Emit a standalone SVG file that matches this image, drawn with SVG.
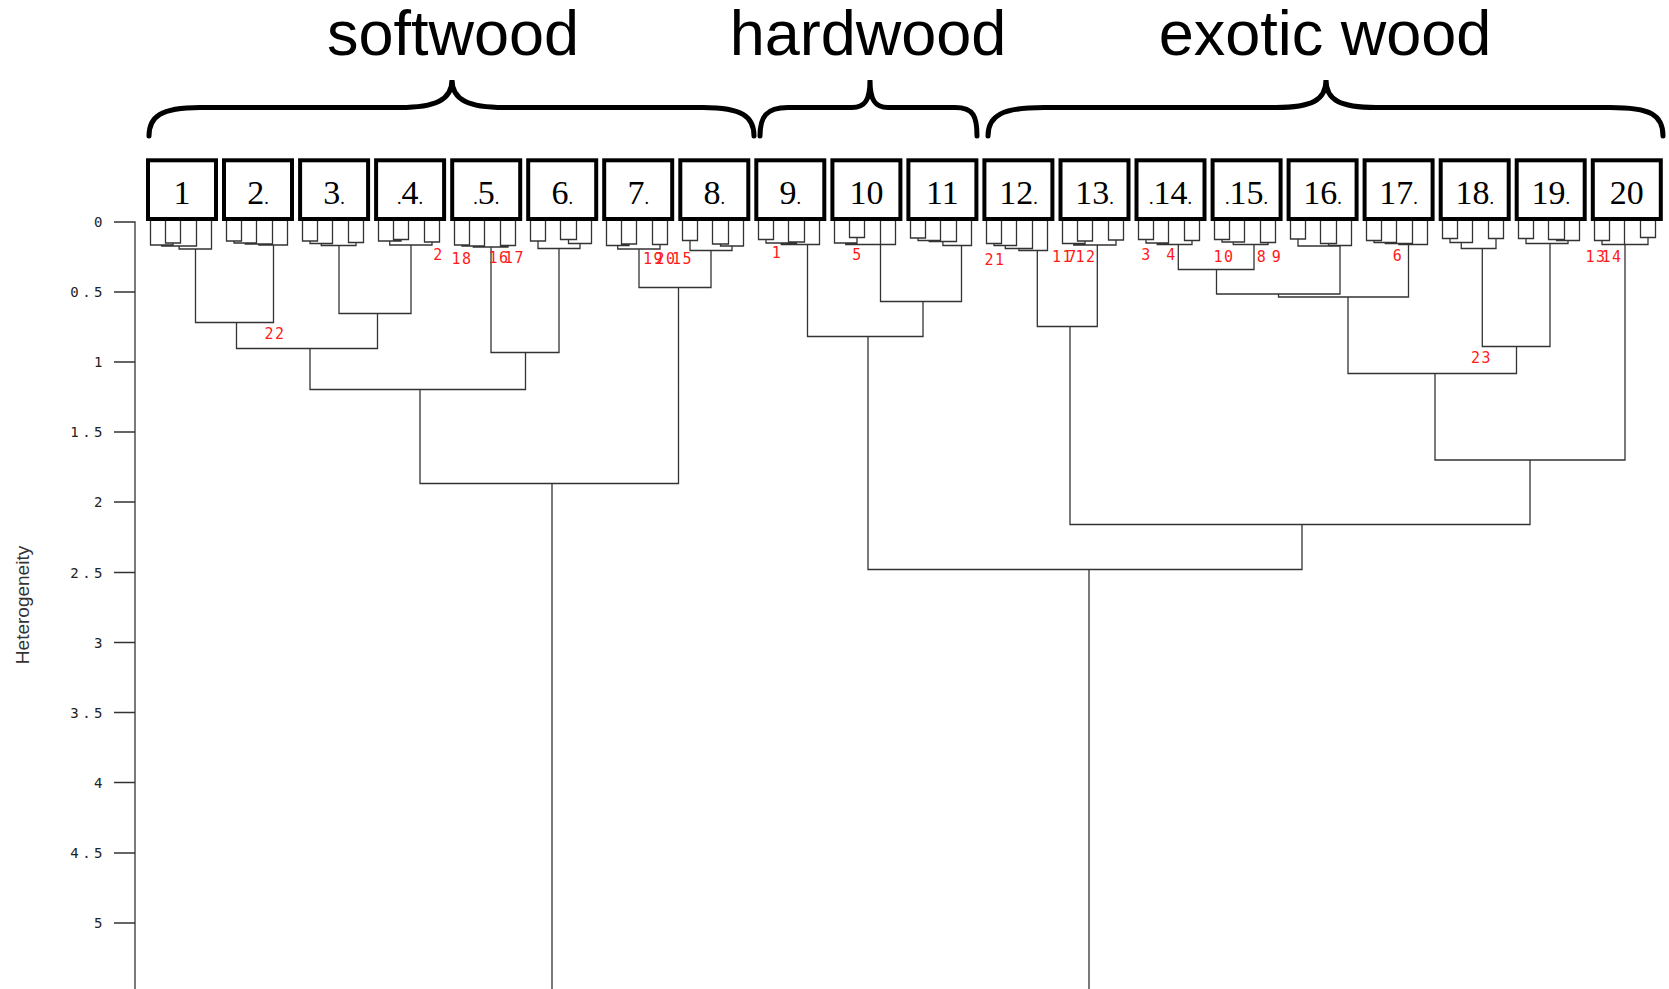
<svg xmlns="http://www.w3.org/2000/svg" width="1669" height="989" viewBox="0 0 1669 989">
<style>
  .hd{font-family:"Liberation Sans",Arial,sans-serif;font-size:63px;fill:#000;text-anchor:middle}
  .br{fill:none;stroke:#000;stroke-width:5;stroke-linecap:round}
  .bx{fill:#fff;stroke:#000;stroke-width:4}
  .num{font-family:"Liberation Serif","Times New Roman",serif;font-size:34px;fill:#000;text-anchor:middle}
  .dot{font-size:18px}
  .ln{fill:none;stroke:#333;stroke-width:1.3}
  .red{font-family:"DejaVu Sans Mono",monospace;font-size:15px;fill:#ff1a1a;letter-spacing:1.5px;text-anchor:middle}
  .tick{font-family:"DejaVu Sans Mono",monospace;font-size:14px;fill:#222;letter-spacing:3.5px;text-anchor:end}
  .ylab{font-family:"Liberation Sans",Arial,sans-serif;font-size:19px;fill:#333;text-anchor:middle}
</style>

<!-- group headings with braces -->
<g id="softwood">
  <text class="hd" x="453" y="55">softwood</text>
  <path class="br" d="M149,136 C149,117 160,107.5 200,107.5 L400,107.5 C435,107.5 452,100 452,80 C452,100 469,107.5 504,107.5 L703,107.5 C743,107.5 754,117 754,136"/>
</g>
<g id="hardwood">
  <text class="hd" x="868" y="55">hardwood</text>
  <path class="br" d="M760,136 C760,117 766,107.5 788,107.5 L852,107.5 C865,107.5 870,100 870,80 C870,100 875,107.5 888,107.5 L955,107.5 C974,107.5 977,117 977,136"/>
</g>
<g id="exotic">
  <text class="hd" x="1325" y="55">exotic wood</text>
  <path class="br" d="M988,136 C988,115 1003,107.5 1044,107.5 L1276,107.5 C1312,107.5 1326,100 1326,80 C1326,100 1340,107.5 1376,107.5 L1610,107.5 C1651,107.5 1663,115 1663,136"/>
</g>

<!-- axis -->
<g id="axis">
  <path class="ln" d="M114,222H135V989M114,292H135M114,362H135M114,432H135M114,502H135M114,572.5H135M114,642.5H135M114,712.5H135M114,782.5H135M114,853H135M114,923H135"/>
  <text class="tick" x="106" y="227">0</text>
  <text class="tick" x="106" y="297">0.5</text>
  <text class="tick" x="106" y="367">1</text>
  <text class="tick" x="106" y="437">1.5</text>
  <text class="tick" x="106" y="507">2</text>
  <text class="tick" x="106" y="577.5">2.5</text>
  <text class="tick" x="106" y="647.5">3</text>
  <text class="tick" x="106" y="717.5">3.5</text>
  <text class="tick" x="106" y="787.5">4</text>
  <text class="tick" x="106" y="858">4.5</text>
  <text class="tick" x="106" y="928">5</text>
  <text class="ylab" transform="translate(29,605) rotate(-90)">Heterogeneity</text>
</g>

<!-- sample boxes, each with its small sub-tree -->
<g id="box1"><rect class="bx" x="148" y="160.3" width="68" height="58.7"/><text class="num" x="182" y="204">1</text>
  <path class="ln" transform="translate(150.5,221)" d="M15,0V22H30V0M0,0V24H22.5V22M11.25,24V25H46V0M28.6,25V28H61V0"/></g>
<g id="box2"><rect class="bx" x="224" y="160.3" width="68" height="58.7"/><text class="num" x="258" y="204">2<tspan class="dot">.</tspan></text>
  <path class="ln" transform="translate(226.5,221)" d="M0,0V20H15V0M7.5,20V22H30V0M18.75,22V23H46V0M32.4,23V24H61V0"/></g>
<g id="box3"><rect class="bx" x="300.1" y="160.3" width="68" height="58.7"/><text class="num" x="334.1" y="204">3<tspan class="dot">.</tspan></text>
  <path class="ln" transform="translate(302.5,221)" d="M0,0V20H15V0M7.5,20V22.5H30V0M46,0V21.5H61V0M18.75,22.5V24.5H53.5V21.5"/></g>
<g id="box4"><rect class="bx" x="376.1" y="160.3" width="68" height="58.7"/><text class="num" x="410.1" y="204"><tspan class="dot">.</tspan>4<tspan class="dot">.</tspan></text>
  <path class="ln" transform="translate(378.5,221)" d="M15,0V18.5H30V0M0,0V20H22.5V18.5M46,0V21H61V0M11.25,20V24H53.5V21"/></g>
<g id="box5"><rect class="bx" x="452.2" y="160.3" width="68" height="58.7"/><text class="num" x="486.2" y="204"><tspan class="dot">.</tspan>5<tspan class="dot">.</tspan></text>
  <path class="ln" transform="translate(454.5,221)" d="M0,0V24H15V0M7.5,24V25H30V0M46,0V24.5H61V0M18.75,25V26H53.5V24.5"/></g>
<g id="box6"><rect class="bx" x="528.2" y="160.3" width="68" height="58.7"/><text class="num" x="562.2" y="204">6<tspan class="dot">.</tspan></text>
  <path class="ln" transform="translate(530.5,221)" d="M0,0V20H15V0M30,0V18.5H46V0M38,18.5V22.5H61V0M7.5,20V27.5H49.5V22.5"/></g>
<g id="box7"><rect class="bx" x="604.2" y="160.3" width="68" height="58.7"/><text class="num" x="638.2" y="204">7<tspan class="dot">.</tspan></text>
  <path class="ln" transform="translate(606.5,221)" d="M15,0V23H30V0M0,0V24.5H22.5V23M46,0V23.5H61V0M11.25,24.5V28H53.5V23.5"/></g>
<g id="box8"><rect class="bx" x="680.3" y="160.3" width="68" height="58.7"/><text class="num" x="714.3" y="204">8<tspan class="dot">.</tspan></text>
  <path class="ln" transform="translate(682.5,221)" d="M0,0V19.5H15V0M30,0V23H46V0M38,23V25H61V0M7.5,19.5V29.5H49.5V25"/></g>
<g id="box9"><rect class="bx" x="756.3" y="160.3" width="68" height="58.7"/><text class="num" x="790.3" y="204">9<tspan class="dot">.</tspan></text>
  <path class="ln" transform="translate(758.5,221)" d="M0,0V18.5H15V0M30,0V21H46V0M7.5,18.5V22H38V21M22.75,22V23.5H61V0"/></g>
<g id="box10"><rect class="bx" x="832.4" y="160.3" width="68" height="58.7"/><text class="num" x="866.4" y="204">10</text>
  <path class="ln" transform="translate(834.5,221)" d="M15,0V16.5H30V0M0,0V22H22.5V16.5M11.25,22V23.5H61V0M46,0V23.5"/></g>
<g id="box11"><rect class="bx" x="908.4" y="160.3" width="68" height="58.7"/><text class="num" x="942.4" y="204">11</text>
  <path class="ln" transform="translate(910.5,221)" d="M0,0V17H15V0M7.5,17V19.5H30V0M18.75,19.5V20.5H46V0M32.4,20.5V24.5H61V0"/></g>
<g id="box12"><rect class="bx" x="984.4" y="160.3" width="68" height="58.7"/><text class="num" x="1018.4" y="204">12<tspan class="dot">.</tspan></text>
  <path class="ln" transform="translate(986.5,221)" d="M0,0V22.5H15V0M7.5,22.5V24.5H30V0M18.75,24.5V27.5H46V0M32.4,27.5V29.5H61V0"/></g>
<g id="box13"><rect class="bx" x="1060.5" y="160.3" width="68" height="58.7"/><text class="num" x="1094.5" y="204">13<tspan class="dot">.</tspan></text>
  <path class="ln" transform="translate(1062.5,221)" d="M15,0V20H30V0M0,0V22.5H22.5V20M46,0V19H61V0M11.25,22.5V24H53.5V19"/></g>
<g id="box14"><rect class="bx" x="1136.5" y="160.3" width="68" height="58.7"/><text class="num" x="1170.5" y="204"><tspan class="dot">.</tspan>14<tspan class="dot">.</tspan></text>
  <path class="ln" transform="translate(1138.5,221)" d="M0,0V18.5H15V0M7.5,18.5V22H30V0M46,0V19.5H61V0M18.75,22V23.5H53.5V19.5"/></g>
<g id="box15"><rect class="bx" x="1212.6" y="160.3" width="68" height="58.7"/><text class="num" x="1246.6" y="204"><tspan class="dot">.</tspan>15<tspan class="dot">.</tspan></text>
  <path class="ln" transform="translate(1214.5,221)" d="M0,0V18.5H15V0M7.5,18.5V21H30V0M46,0V21.5H61V0M18.75,21V23.5H53.5V21.5"/></g>
<g id="box16"><rect class="bx" x="1288.6" y="160.3" width="68" height="58.7"/><text class="num" x="1322.6" y="204">16<tspan class="dot">.</tspan></text>
  <path class="ln" transform="translate(1290.5,221)" d="M0,0V18H15V0M30,0V22.5H46V0M38,22.5V24.5H61V0M7.5,18V25H49.5V24.5"/></g>
<g id="box17"><rect class="bx" x="1364.6" y="160.3" width="68" height="58.7"/><text class="num" x="1398.6" y="204">17<tspan class="dot">.</tspan></text>
  <path class="ln" transform="translate(1366.5,221)" d="M0,0V19.5H15V0M7.5,19.5V21.5H30V0M18.75,21.5V22.5H46V0M32.4,22.5V23.5H61V0"/></g>
<g id="box18"><rect class="bx" x="1440.7" y="160.3" width="68" height="58.7"/><text class="num" x="1474.7" y="204">18<tspan class="dot">.</tspan></text>
  <path class="ln" transform="translate(1442.5,221)" d="M0,0V17.5H15V0M7.5,17.5V21.5H30V0M46,0V17.5H61V0M18.75,21.5V27.5H53.5V17.5"/></g>
<g id="box19"><rect class="bx" x="1516.7" y="160.3" width="68" height="58.7"/><text class="num" x="1550.7" y="204">19<tspan class="dot">.</tspan></text>
  <path class="ln" transform="translate(1518.5,221)" d="M0,0V17.5H15V0M30,0V18.5H46V0M38,18.5V19.5H61V0M7.5,17.5V22.5H49.5V19.5"/></g>
<g id="box20"><rect class="bx" x="1592.8" y="160.3" width="68" height="58.7"/><text class="num" x="1626.8" y="204">20</text>
  <path class="ln" transform="translate(1594.5,221)" d="M0,0V19.5H15V0M46,0V16.5H61V0M7.5,19.5V23.5H53.5V16.5M30,0V23.5"/></g>

<!-- main dendrogram links -->
<g id="connectors">
  <path class="ln" d="M195.5,249V322.5H273.5V245M339,245.5V313.5H411V245M236.5,322.5V348.5H377.5V313.5M491,247V352.5H559V248.5M310,348.5V389.5H525.5V352.5M639,249V287.5H711V250.5M420,389.5V483.5H678.5V287.5M552,483.5V989"/>
  <path class="ln" d="M880.5,244.5V301.5H961.5V245.5M807.5,244.5V336.5H923V301.5M868,336.5V569.5H1302V524.5"/>
  <path class="ln" d="M1037.3,250.5V326.5H1097.3V245M1178.3,244.5V269.5H1254V244.5M1216.5,269.5V294H1340V246M1278.5,294V297H1408.5V244.5M1482.3,248.5V346.5H1550V243.5M1348,297V373.5H1516.5V346.5M1435,373.5V460H1625V244.5M1070,326.5V524.5H1530V460M1089,569.5V989"/>
</g>

<!-- cluster ids -->
<g id="cluster-ids">
  <text class="red" x="438.5" y="260">2</text>
  <text class="red" x="462" y="264">18</text>
  <text class="red" x="499" y="262.5">16</text>
  <text class="red" x="514.5" y="262.5">17</text>
  <text class="red" x="653.5" y="263.5">19</text>
  <text class="red" x="666" y="263.5">20</text>
  <text class="red" x="682.5" y="263.5">15</text>
  <text class="red" x="777" y="257.5">1</text>
  <text class="red" x="857.5" y="259.5">5</text>
  <text class="red" x="995" y="265">21</text>
  <text class="red" x="1062.5" y="261.5">11</text>
  <text class="red" x="1072.5" y="261.5">7</text>
  <text class="red" x="1086" y="261.5">12</text>
  <text class="red" x="1146.5" y="259.5">3</text>
  <text class="red" x="1171.5" y="259.5">4</text>
  <text class="red" x="1224" y="261.5">10</text>
  <text class="red" x="1262" y="261.5">8</text>
  <text class="red" x="1277" y="261.5">9</text>
  <text class="red" x="1398" y="260.5">6</text>
  <text class="red" x="1596" y="261.5">13</text>
  <text class="red" x="1612" y="261.5">14</text>
  <text class="red" x="275" y="338.5">22</text>
  <text class="red" x="1481.5" y="363">23</text>
</g>
</svg>
